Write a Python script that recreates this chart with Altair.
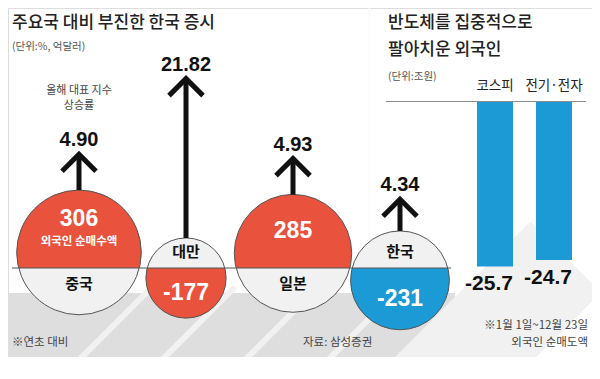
import altair as alt
import pandas as pd

# ---------------- data ----------------
countries = ["중국", "대만", "일본", "한국"]
index_growth = [4.90, 21.82, 4.93, 4.34]          # 올해 대표 지수 상승률 (%)
foreign_net = [306, -177, 285, -231]              # 외국인 순매수액 (억달러)
net_notes = ["외국인 순매수액", "", "", ""]

sectors = ["코스피", "전기·전자"]
sector_net = [-25.7, -24.7]                        # 외국인 순매도액 (조원)

# ---------------- style ----------------
W, H = 584, 349
BG = "#f1f1f1"
BAND = "#dedede"
RED = "#e9523c"
BLUE = "#1c9ad6"
INK = "#111111"
KR = "Noto Sans CJK KR"
NUM = "Liberation Sans"
PX_PER_PCT = 7.3
CHORD = 0.25

left_df = pd.DataFrame({"country": countries, "growth": index_growth,
                        "net": foreign_net, "note": net_notes})
sector_df = pd.DataFrame({"sector": sectors, "value": sector_net})
one = pd.DataFrame({"k": [0]})

POS_SEG = "M -0.9682 0.25 A 1 1 0 1 1 0.9682 0.25 Z"
NEG_SEG = "M -0.9682 -0.25 A 1 1 0 1 0 0.9682 -0.25 Z"
CHEVRON = "M -1 1 L 0 0 L 1 1"

# ---------------- decorations ----------------
deco = [
    alt.Chart(one).mark_rule(color="#fbfbfb", strokeWidth=1.5).encode(
        x=alt.value(361.5), y=alt.value(0), y2=alt.value(H)),
    alt.Chart(one).mark_rect(color=BAND).encode(
        x=alt.value(0), x2=alt.value(447), y=alt.value(285), y2=alt.value(H)),
]
for bx in [74, 157, 240, 323]:
    deco.append(alt.Chart(one).mark_rule(color=BG, strokeWidth=6, clip=True).encode(
        x=alt.value(bx - 12), y=alt.value(H + 12), x2=alt.value(bx + 70), y2=alt.value(279)))
deco.append(alt.Chart(one).mark_rule(color=BG, strokeWidth=100, clip=True).encode(
    x=alt.value(397.7), y=alt.value(409), x2=alt.value(557.7), y2=alt.value(249)))

# ---------------- left panel ----------------
base = alt.Chart(left_df).transform_calculate(
    r="9.6 + 0.1723 * abs(datum.net)",
    s="datum.net > 0 ? 1 : -1",
).transform_calculate(
    cy=f"datum.s * {CHORD} * datum.r",
    top=f"datum.s * {CHORD} * datum.r + datum.r",
    mid=f"datum.s * datum.r * {(1 + CHORD) / 2}",
    name_y="-datum.s * 16",
    gtxt="format(datum.growth, '.2f')",
    ntxt="toString(datum.net)",
).transform_calculate(
    tip=f"datum.top + datum.growth * {PX_PER_PCT}",
    num_y="datum.mid + (datum.note != '' ? 10 : 0)",
    note_y="datum.mid - 13",
)

X = alt.X("country:N", scale=alt.Scale(type="point", domain=countries,
                                       range=[71, 392], padding=0), axis=None)


def Y(field):
    return alt.Y(f"{field}:Q", scale=alt.Scale(domain=[-89, 260], nice=False, zero=False),
                 axis=None)


SIZE = alt.Size("r:Q", scale=alt.Scale(type="pow", exponent=2, domain=[0, 100],
                                       range=[0, 40000]), legend=None)
COLOR = alt.Color("country:N", scale=alt.Scale(domain=countries, range=[RED, RED, RED, BLUE]),
                  legend=None)

circ_fill = base.mark_point(shape="circle", filled=True, opacity=1, fill=BG,
                            strokeWidth=0).encode(x=X, y=Y("cy"), size=SIZE)
seg_pos = base.transform_filter("datum.net > 0").mark_point(
    shape=POS_SEG, filled=True, opacity=1, strokeWidth=0).encode(
    x=X, y=Y("cy"), size=SIZE, color=COLOR)
seg_neg = base.transform_filter("datum.net < 0").mark_point(
    shape=NEG_SEG, filled=True, opacity=1, strokeWidth=0).encode(
    x=X, y=Y("cy"), size=SIZE, color=COLOR)
circ_line = base.mark_point(shape="circle", filled=False, opacity=1, stroke="#555555",
                            strokeWidth=1).encode(x=X, y=Y("cy"), size=SIZE)
baseline = alt.Chart(one).mark_rule(color="#555555", strokeWidth=1).encode(
    x=alt.value(4), x2=alt.value(443), y=alt.value(260))
shaft = base.mark_rule(color=INK, strokeWidth=5).encode(x=X, y=Y("top"), y2="tip:Q")
chevron = base.mark_point(shape=CHEVRON, filled=False, size=1156, strokeWidth=5,
                          color=INK, opacity=1, strokeJoin="miter").encode(x=X, y=Y("tip"))
g_lab = base.mark_text(font=NUM, fontWeight="bold", fontSize=20, color=INK,
                       baseline="alphabetic", dy=-8).encode(x=X, y=Y("tip"), text="gtxt:N")
n_lab = base.mark_text(font=NUM, fontWeight="bold", fontSize=23, color="white").encode(
    x=X, y=Y("num_y"), text="ntxt:N")
note_lab = base.transform_filter("datum.note != ''").mark_text(
    font=KR, fontWeight="bold", fontSize=11.5, color="white").encode(
    x=X, y=Y("note_y"), text="note:N")
name_lab = base.mark_text(font=KR, fontWeight="bold", fontSize=15, color=INK).encode(
    x=X, y=Y("name_y"), text="country:N")

left = alt.layer(circ_fill, seg_pos, seg_neg, circ_line, baseline, shaft, chevron,
                 g_lab, n_lab, note_lab, name_lab)

# ---------------- right panel ----------------
XB = alt.X("sector:N", scale=alt.Scale(type="point", domain=sectors, range=[487, 546],
                                       padding=0), axis=None)
YB = alt.Y("value:Q", scale=alt.Scale(domain=[-30, 0], range=[286, 94], nice=False,
                                      zero=False), axis=None)
bars = alt.Chart(sector_df).mark_bar(size=36, color=BLUE).encode(x=XB, y=YB)
head_line = alt.Chart(one).mark_rule(color="#8a8a8a", strokeWidth=1).encode(
    x=alt.value(378), x2=alt.value(578), y=alt.value(93.5))
heads = alt.Chart(sector_df).mark_text(font=KR, fontSize=13.5, color="#222222").encode(
    x=XB, y=alt.value(78), text="sector:N")
vals = alt.Chart(sector_df).transform_calculate(t="toString(datum.value)").mark_text(
    font=NUM, fontWeight="bold", fontSize=21, color=INK, baseline="top", dx=-6, dy=7).encode(
    x=XB, y=YB, text="t:N")
right = alt.layer(bars, head_line, heads, vals)

# ---------------- static text ----------------
def txt(s, x, y, size, color="#222222", align="left", weight="normal", font=KR):
    return alt.Chart(one).mark_text(text=s, font=font, fontSize=size, color=color,
                                    align=align, fontWeight=weight).encode(
        x=alt.value(x), y=alt.value(y))

texts = [
    txt("주요국 대비 부진한 한국 증시", 4, 15, 17, weight=500),
    txt("(단위:%, 억달러)", 4, 39, 10.5, "#555555"),
    txt("올해 대표 지수", 71, 83, 11, "#444444", "center"),
    txt("상승률", 71, 98, 11, "#444444", "center"),
    txt("반도체를 집중적으로", 380, 15, 17, weight=500),
    txt("팔아치운 외국인", 380, 42, 17, weight=500),
    txt("(단위:조원)", 380, 69, 10.5, "#555555"),
    txt("※연초 대비", 4, 335, 11.5, "#444444"),
    txt("자료: 삼성증권", 295, 335, 11.5, "#444444"),
    txt("※1월 1일~12월 23일", 580, 318, 11.5, "#444444", "right"),
    txt("외국인 순매도액", 580, 335, 11.5, "#444444", "right"),
]

chart = alt.layer(*deco, left, right, *texts).resolve_scale(
    x="independent", y="independent"
).properties(
    width=W, height=H, padding=0, autosize=alt.AutoSizeParams(type="none")
).configure_view(fill=BG, stroke=None).configure(background="white")

chart.save("out.html", embed_options={"renderer": "svg", "actions": False})
